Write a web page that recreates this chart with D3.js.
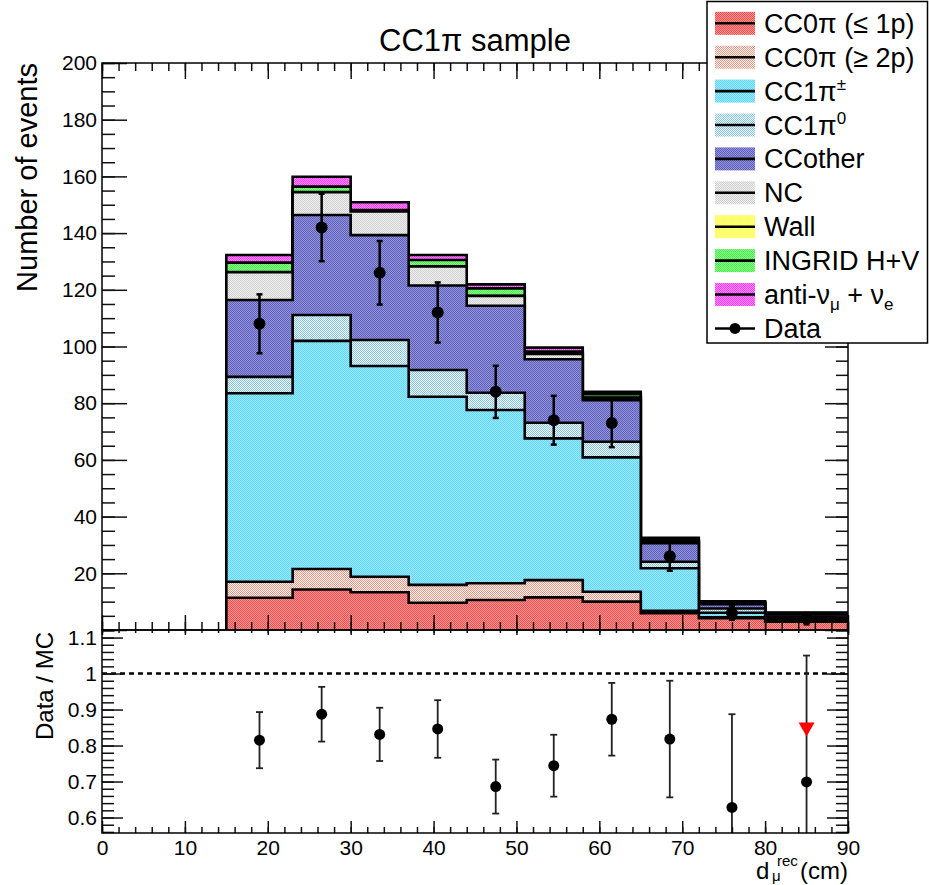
<!DOCTYPE html>
<html>
<head>
<meta charset="utf-8">
<title>CC1pi sample</title>
<script src="https://cdn.jsdelivr.net/npm/d3@7"></script>
<style>
  body { margin: 0; background: #fff; }
  text { font-family: "Liberation Sans", Arial, Helvetica, sans-serif; fill: #000; }
</style>
</head>
<body>
<script>
// bin edges of d_mu^rec (cm)
var edges = [15, 23, 30, 37, 44, 51, 58, 65, 72, 80, 90];

// MC components per bin, stacked bottom -> top
var cc0piLe1p = [11.4, 14.3, 13.3, 9.6, 10.6, 11.5, 10.0, 5.9, 4.2, 2.9];
var cc0piGe2p = [5.6, 7.2, 5.5, 6.3, 5.9, 6.1, 3.5, 0.9, 0.3, 0.2];
var cc1piPm   = [66.5, 80.5, 74.3, 66.4, 61.1, 50.0, 47.4, 15.0, 1.6, 0.8];
var cc1pi0    = [5.8, 9.1, 9.2, 9.4, 6.1, 5.5, 5.5, 2.3, 1.5, 0.8];
var ccOther   = [27.1, 35.3, 37.0, 29.8, 30.7, 22.4, 14.7, 6.5, 1.5, 0.8];
var nc        = [9.8, 8.0, 8.3, 6.7, 3.4, 1.9, 0.8, 0.7, 0.4, 0.2];
var wall      = [0.1, 0.1, 0.1, 0.1, 0.1, 0.1, 0.1, 0.1, 0.05, 0.05];
var ingrid    = [3.3, 1.9, 0.4, 2.2, 2.6, 0.7, 1.2, 0.5, 0.3, 0.2];
var antiNuNue = [2.7, 3.5, 2.8, 1.8, 1.4, 1.4, 0.8, 0.6, 0.3, 0.2];

// data
var dataX      = [19, 26.5, 33.5, 40.5, 47.5, 54.5, 61.5, 68.5, 76, 85];
var dataCounts = [108, 142, 126, 112, 84, 74, 73, 26, 6, 4];
var dataErr    = [10.4, 11.9, 11.2, 10.6, 9.2, 8.6, 8.5, 5.1, 2.4, 2.0];

// ratio panel
var ratio    = [0.815, 0.887, 0.831, 0.846, 0.686, 0.744, 0.873, 0.818, 0.628, 0.699];
var ratioErr = [0.078, 0.076, 0.074, 0.080, 0.075, 0.086, 0.101, 0.162, 0.259, 0.351];
var arrowX = [85];
var arrowY = [0.864];

var keys = ["le1p", "ge2p", "pipm", "pi0", "other", "nc", "wall", "ingrid", "anti"];
var vals = [cc0piLe1p, cc0piGe2p, cc1piPm, cc1pi0, ccOther, nc, wall, ingrid, antiNuNue];
// two colours per fill: ROOT-ish dotted fill
var cols = [
  ["#ff4848", "#f39a9a"],
  ["#f78f7c", "#ffffff"],
  ["#5fd6ff", "#9fe9ff"],
  ["#7cc4ee", "#ffffff"],
  ["#5f5fbd", "#9393d8"],
  ["#cfcfcf", "#f0f0f0"],
  ["#ffff55", "#ffff88"],
  ["#4aee4a", "#8cff8c"],
  ["#ff3cff", "#ff8cff"]
];

var table = edges.slice(0, -1).map(function (e, i) {
  var row = {x0: e, x1: edges[i + 1]};
  keys.forEach(function (k, j) { row[k] = vals[j][i]; });
  return row;
});
var stacked = d3.stack().keys(keys)(table);

var W = 929, H = 885;
var svg = d3.select("body").append("svg").attr("width", W).attr("height", H);

var defs = svg.append("defs");
keys.forEach(function (k, j) {
  var p = defs.append("pattern").attr("id", "pat-" + k)
    .attr("width", 2).attr("height", 2).attr("patternUnits", "userSpaceOnUse");
  p.append("rect").attr("width", 2).attr("height", 2).attr("fill", cols[j][1]);
  p.append("rect").attr("width", 1).attr("height", 1).attr("fill", cols[j][0]);
  p.append("rect").attr("x", 1).attr("y", 1).attr("width", 1).attr("height", 1).attr("fill", cols[j][0]);
});
defs.append("clipPath").attr("id", "clipTop").append("rect")
  .attr("x", 102).attr("y", 63).attr("width", 746).attr("height", 567);
defs.append("clipPath").attr("id", "clipRat").append("rect")
  .attr("x", 102).attr("y", 630).attr("width", 746).attr("height", 203);

var x = d3.scaleLinear().domain([0, 90]).range([102, 848]);
var yTop = d3.scaleLinear().domain([0, 200]).range([630, 63]);
var yRat = d3.scaleLinear().domain([0.557, 1.121]).range([833, 630]);

// ---- stacked histogram
var gHist = svg.append("g").attr("clip-path", "url(#clipTop)");
for (var s = stacked.length - 1; s >= 0; s--) {
  var layer = stacked[s];
  var pts = layer.map(function (d) { return {x: d.data.x0, v: d[1]}; });
  pts.push({x: 90, v: layer[layer.length - 1][1]});
  var area = d3.area().curve(d3.curveStepAfter)
    .x(function (d) { return x(d.x); })
    .y0(yTop(0)).y1(function (d) { return yTop(d.v); });
  gHist.append("path").datum(pts).attr("d", area).attr("fill", "url(#pat-" + keys[s] + ")");

  var lp = [[15, 0]];
  layer.forEach(function (d) { lp.push([d.data.x0, d[1]]); lp.push([d.data.x1, d[1]]); });
  lp.push([90, 0]);
  gHist.append("path").datum(lp)
    .attr("d", d3.line().x(function (d) { return x(d[0]); }).y(function (d) { return yTop(d[1]); }))
    .attr("fill", "none").attr("stroke", "#000").attr("stroke-width", 2.6);
}

// ---- data points, top panel
var gData = svg.append("g");
dataX.forEach(function (dx, i) {
  var cx = x(dx);
  gData.append("line").attr("x1", cx).attr("x2", cx)
    .attr("y1", yTop(dataCounts[i] - dataErr[i])).attr("y2", yTop(dataCounts[i] + dataErr[i]))
    .attr("stroke", "#000").attr("stroke-width", 2.5);
  [dataCounts[i] - dataErr[i], dataCounts[i] + dataErr[i]].forEach(function (v) {
    gData.append("line").attr("x1", cx - 3).attr("x2", cx + 3)
      .attr("y1", yTop(v)).attr("y2", yTop(v)).attr("stroke", "#000").attr("stroke-width", 2.5);
  });
  gData.append("circle").attr("cx", cx).attr("cy", yTop(dataCounts[i])).attr("r", 6).attr("fill", "#000");
});

// ---- ratio panel
svg.append("line").attr("x1", x(0)).attr("x2", x(90)).attr("y1", yRat(1)).attr("y2", yRat(1))
  .attr("stroke", "#000").attr("stroke-width", 2.4).attr("stroke-dasharray", "5,4");
var gRat = svg.append("g").attr("clip-path", "url(#clipRat)");
dataX.forEach(function (dx, i) {
  var cx = x(dx);
  var lo = ratio[i] - ratioErr[i], hi = ratio[i] + ratioErr[i];
  gRat.append("line").attr("x1", cx).attr("x2", cx).attr("y1", yRat(lo)).attr("y2", yRat(hi))
    .attr("stroke", "#222").attr("stroke-width", 1.8);
  [lo, hi].forEach(function (v) {
    gRat.append("line").attr("x1", cx - 3.5).attr("x2", cx + 3.5).attr("y1", yRat(v)).attr("y2", yRat(v))
      .attr("stroke", "#222").attr("stroke-width", 1.8);
  });
  gRat.append("circle").attr("cx", cx).attr("cy", yRat(ratio[i])).attr("r", 5.5).attr("fill", "#000");
});
arrowX.forEach(function (ax, i) {
  var cx = x(ax), ty = yRat(arrowY[i]);
  gRat.append("path").attr("d", "M" + (cx - 8) + "," + ty + "L" + (cx + 8) + "," + ty + "L" + cx + "," + (ty + 14) + "Z")
    .attr("fill", "#ff0000");
});

// ---- axes
function styleAxis(g) {
  g.select(".domain").remove();
  g.selectAll("line").attr("stroke", "#111").attr("stroke-width", 1.5);
  g.selectAll("text").attr("font-size", 21).attr("fill", "#000");
}
function addAxis(gen, tx, ty) {
  svg.append("g").attr("transform", "translate(" + tx + "," + ty + ")").call(gen).call(styleAxis);
}
var noLab = function () { return ""; };
var yMajor = d3.range(0, 201, 20), yMinor = d3.range(0, 201, 5);
var xMajor = d3.range(0, 91, 10), xMinor = d3.range(0, 91, 2);
var rMajor = [0.6, 0.7, 0.8, 0.9, 1.0, 1.1];
var rMinor = d3.range(0.56, 1.121, 0.02);

// top panel
addAxis(d3.axisLeft(yTop).tickValues(yMinor).tickSize(-13).tickFormat(noLab), 102, 0);
addAxis(d3.axisLeft(yTop).tickValues(yMajor).tickSize(-25).tickPadding(5)
  .tickFormat(function (d) { return d === 0 ? "" : d; }), 102, 0);
addAxis(d3.axisRight(yTop).tickValues(yMinor).tickSize(-12).tickFormat(noLab), 848, 0);
addAxis(d3.axisRight(yTop).tickValues(yMajor).tickSize(-23).tickFormat(noLab), 848, 0);
addAxis(d3.axisBottom(x).tickValues(xMinor).tickSize(-8).tickFormat(noLab), 0, 630);
addAxis(d3.axisBottom(x).tickValues(xMajor).tickSize(-15).tickFormat(noLab), 0, 630);
addAxis(d3.axisTop(x).tickValues(xMinor).tickSize(-8).tickFormat(noLab), 0, 63);
addAxis(d3.axisTop(x).tickValues(xMajor).tickSize(-16).tickFormat(noLab), 0, 63);

// ratio panel
addAxis(d3.axisLeft(yRat).tickValues(rMinor).tickSize(-12).tickFormat(noLab), 102, 0);
addAxis(d3.axisLeft(yRat).tickValues(rMajor).tickSize(-21).tickPadding(5)
  .tickFormat(function (d) { return d === 1 ? "1" : d3.format(".1f")(d); }), 102, 0);
addAxis(d3.axisRight(yRat).tickValues(rMinor).tickSize(-12).tickFormat(noLab), 848, 0);
addAxis(d3.axisRight(yRat).tickValues(rMajor).tickSize(-21).tickFormat(noLab), 848, 0);
addAxis(d3.axisBottom(x).tickValues(xMinor).tickSize(-6).tickFormat(noLab), 0, 833);
addAxis(d3.axisBottom(x).tickValues(xMajor).tickSize(-12).tickPadding(7), 0, 833);
addAxis(d3.axisTop(x).tickValues(xMinor).tickSize(-3).tickFormat(noLab), 0, 630);
addAxis(d3.axisTop(x).tickValues(xMajor).tickSize(-5).tickFormat(noLab), 0, 630);

// frames
svg.append("rect").attr("x", 102).attr("y", 63).attr("width", 746).attr("height", 567)
  .attr("fill", "none").attr("stroke", "#000").attr("stroke-width", 1.5);
svg.append("rect").attr("x", 102).attr("y", 630).attr("width", 746).attr("height", 203)
  .attr("fill", "none").attr("stroke", "#000").attr("stroke-width", 1.5);

// titles
svg.append("text").attr("x", 475).attr("y", 51).attr("text-anchor", "middle")
  .attr("font-size", 31).text("CC1π sample");
svg.append("text").attr("transform", "translate(37,63) rotate(-90)").attr("text-anchor", "end")
  .attr("font-size", 29).text("Number of events");
svg.append("text").attr("transform", "translate(53,632) rotate(-90)").attr("text-anchor", "end")
  .attr("font-size", 24).text("Data / MC");
svg.append("text").attr("x", 756).attr("y", 879).attr("font-size", 24).text("d");
svg.append("text").attr("x", 777).attr("y", 866).attr("font-size", 15).text("rec");
svg.append("text").attr("x", 772).attr("y", 881).attr("font-size", 15).text("μ");
svg.append("text").attr("x", 848).attr("y", 879).attr("text-anchor", "end").attr("font-size", 24).text("(cm)");

// ---- legend
var legendLabels = [
  [["CC0π (≤ 1p)", 0]],
  [["CC0π (≥ 2p)", 0]],
  [["CC1π", 0], ["±", -1]],
  [["CC1π", 0], ["0", -1]],
  [["CCother", 0]],
  [["NC", 0]],
  [["Wall", 0]],
  [["INGRID H+V", 0]],
  [["anti-ν", 0], ["μ", 1], [" + ν", 0], ["e", 1]],
  [["Data", 0]]
];
var gLeg = svg.append("g");
gLeg.append("rect").attr("x", 707).attr("y", 1.5).attr("width", 220.5).attr("height", 341.5)
  .attr("fill", "#fff").attr("stroke", "#000").attr("stroke-width", 1.5);
legendLabels.forEach(function (parts, i) {
  var cy = 23.3 + i * 33.9;
  if (i < keys.length) {
    gLeg.append("rect").attr("x", 715).attr("y", cy - 11.5).attr("width", 40).attr("height", 23)
      .attr("fill", "url(#pat-" + keys[i] + ")");
    gLeg.append("line").attr("x1", 715).attr("x2", 755).attr("y1", cy).attr("y2", cy)
      .attr("stroke", "#000").attr("stroke-width", 2.6);
  } else {
    gLeg.append("line").attr("x1", 715).attr("x2", 755).attr("y1", cy).attr("y2", cy)
      .attr("stroke", "#000").attr("stroke-width", 2.5);
    gLeg.append("circle").attr("cx", 735).attr("cy", cy).attr("r", 5.5).attr("fill", "#000");
  }
  var t = gLeg.append("text").attr("x", 764).attr("y", cy + 9.5).attr("font-size", 27);
  parts.forEach(function (p) {
    var ts = t.append("tspan").text(p[0]);
    if (p[1] === -1) ts.attr("font-size", 17).attr("dy", -11);
    if (p[1] === 1) ts.attr("font-size", 17).attr("dy", 6);
  });
  // reset baseline after shifted tspans
  var shift = 0;
  t.selectAll("tspan").each(function (d, k) {
    var p = parts[k];
    if (p[1] === 0 && shift !== 0) { d3.select(this).attr("dy", -shift); shift = 0; }
    else if (p[1] === -1) shift = -11;
    else if (p[1] === 1) shift = 6;
  });
});
</script>
</body>
</html>
